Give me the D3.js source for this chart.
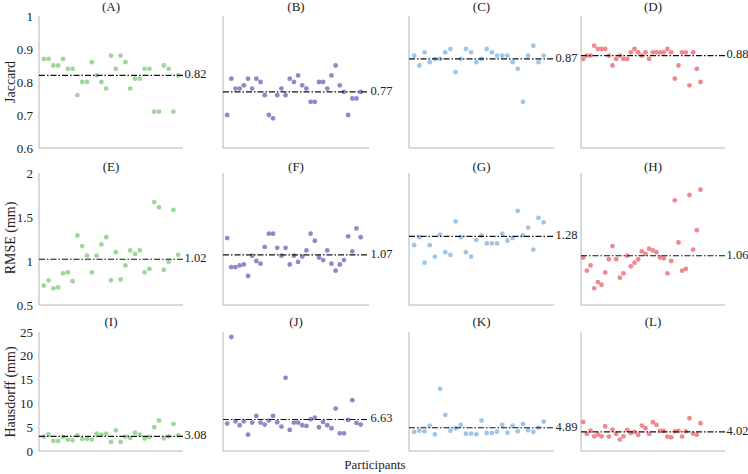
<!DOCTYPE html>
<html><head><meta charset="utf-8">
<script src="https://cdn.jsdelivr.net/npm/d3@7"></script>
<style>body{margin:0;background:#fff}svg text{font-family:"Liberation Serif","Times New Roman","DejaVu Serif",serif !important;fill:#222}</style>
</head><body><svg id="c" width="748" height="474"></svg>
<script>
const panelLabels = ["(A)","(B)","(C)","(D)","(E)","(F)","(G)","(H)","(I)","(J)","(K)","(L)"];
const rowTitles = ["Jaccard","RMSE (mm)","Hausdorff (mm)"];
const rowTicks = [["0.6","0.7","0.8","0.9","1"],["0.5","1","1.5","2"],["0","5","10","15","20","25"]];
const rowDomains = [[0.6,1],[0.5,2],[0,25]];
const colors = ["#9fd69a","#8e89c9","#9ec6ea","#f0898e"];

const A = [0.87,0.87,0.85,0.85,0.87,0.84,0.84,0.76,0.80,0.80,0.86,0.82,0.80,0.78,0.88,0.84,0.88,0.86,0.78,0.81,0.81,0.84,0.84,0.71,0.71,0.85,0.84,0.71,0.82];
const B = [0.70,0.81,0.78,0.78,0.79,0.81,0.78,0.81,0.80,0.76,0.70,0.69,0.76,0.78,0.76,0.81,0.80,0.82,0.79,0.78,0.74,0.74,0.80,0.80,0.78,0.82,0.85,0.79,0.77,0.70,0.75,0.75,0.77];
const C = [0.88,0.85,0.89,0.86,0.87,0.87,0.89,0.90,0.83,0.87,0.90,0.89,0.86,0.87,0.90,0.89,0.88,0.88,0.88,0.86,0.84,0.74,0.88,0.91,0.86,0.88];
const D = [0.87,0.88,0.88,0.91,0.90,0.90,0.90,0.88,0.85,0.87,0.88,0.87,0.87,0.89,0.90,0.89,0.88,0.89,0.87,0.89,0.89,0.89,0.89,0.90,0.89,0.81,0.85,0.89,0.89,0.79,0.89,0.84,0.80];
const E = [0.72,0.78,0.69,0.70,0.86,0.87,0.77,1.29,1.17,1.06,0.87,1.06,1.19,1.27,0.78,1.10,0.79,0.95,1.12,1.08,1.12,0.87,0.91,1.67,1.61,0.90,0.99,1.58,1.07];
const F = [1.26,0.93,0.93,0.95,0.96,0.83,1.06,1.00,0.97,1.16,1.31,1.31,1.15,1.06,1.15,0.96,1.06,0.99,1.05,1.12,1.31,1.23,1.04,1.01,1.12,0.97,0.89,0.96,1.01,1.28,1.11,1.37,1.27];
const G = [1.18,1.27,0.98,1.18,1.05,1.30,1.10,1.07,1.45,1.27,1.10,1.05,1.24,1.29,1.20,1.20,1.20,1.31,1.23,1.26,1.57,1.29,1.38,1.13,1.49,1.44];
const H = [1.04,0.89,0.95,0.69,0.76,0.73,0.87,1.02,1.17,1.02,0.81,0.86,1.06,0.94,0.98,1.02,1.11,1.08,1.14,1.12,1.10,1.04,1.03,0.86,1.00,1.69,1.21,0.89,0.91,1.75,1.13,1.35,1.81];
const I = [3.02,3.51,2.11,2.11,2.95,2.39,2.25,3.30,2.53,2.53,2.39,3.65,3.44,3.65,1.90,4.35,1.90,3.02,2.74,3.86,3.44,2.60,2.95,4.99,6.39,2.67,3.09,5.69,3.30];
const J = [5.76,23.95,6.25,5.41,6.25,3.44,5.97,7.37,5.97,5.55,6.39,7.37,6.04,5.13,15.38,4.42,5.97,5.97,5.41,5.27,6.67,7.02,4.99,6.11,5.41,4.78,8.92,3.72,3.72,6.53,10.67,5.90,5.55];
const K = [4.00,4.28,4.14,5.34,3.51,13.06,7.58,4.28,4.78,5.48,3.65,3.65,3.51,6.39,3.79,3.79,4.07,5.48,3.86,5.34,4.14,5.69,4.35,4.00,4.92,6.18];
const L = [6.11,3.58,4.28,3.09,3.44,3.09,5.20,3.02,4.49,3.58,2.39,3.09,4.42,3.79,4.00,3.37,5.34,4.78,3.58,6.04,5.48,4.21,4.21,3.02,2.88,4.14,4.21,3.02,4.14,6.88,3.65,3.44,5.83];
const means = [0.82,0.77,0.87,0.88,1.02,1.07,1.28,1.06,3.08,6.63,4.89,4.02];
const meanText = ["0.82","0.77","0.87","0.88","1.02","1.07","1.28","1.06","3.08","6.63","4.89","4.02"];
const series = [A,B,C,D,E,F,G,H,I,J,K,L];

// layout
const colX = [[39,183],[223,369],[409,554],[581,725]];
const colDom = [[0,30],[0,35],[0,28],[0.4,39.7]];
const rowY = [[16,148],[173,305],[332,451]];
const titleY = [8,168,323];
const rowTitleY = [82,238,392];
const FONT = "'Liberation Serif','Times New Roman',serif";

const svg = d3.select("#c");
for (let r=0;r<3;r++){
  const y = d3.scaleLinear().domain(rowDomains[r]).range([rowY[r][1],rowY[r][0]]);
  svg.append("text").attr("transform",`translate(12,${rowTitleY[r]}) rotate(-90)`)
    .attr("text-anchor","middle").attr("dominant-baseline","middle").attr("font-family",FONT).style("font-size","14px").text(rowTitles[r]);
  const yAxis = svg.append("g").attr("transform",`translate(${colX[0][0]},0)`)
    .call(d3.axisLeft(y).tickValues(rowTicks[r].map(Number)).tickFormat((d,i)=>rowTicks[r][i]).tickSize(0).tickPadding(6));
  yAxis.attr("font-family",FONT);
  yAxis.select(".domain").remove();
  yAxis.selectAll("text").style("font-size","13px").attr("fill","#222");
  for (let c=0;c<4;c++){
    const k = r*4+c;
    const x = d3.scaleLinear().domain(colDom[c]).range(colX[c]);
    const g = svg.append("g").attr("font-family",FONT);
    g.append("line").attr("x1",colX[c][0]).attr("x2",colX[c][0]).attr("y1",rowY[r][0]).attr("y2",rowY[r][1]).attr("stroke","#b4b4b4");
    g.append("line").attr("x1",colX[c][0]).attr("x2",colX[c][1]).attr("y1",rowY[r][1]).attr("y2",rowY[r][1]).attr("stroke","#b4b4b4");
    g.append("text").attr("x",(colX[c][0]+colX[c][1])/2).attr("y",titleY[r]).attr("text-anchor","middle")
      .attr("dominant-baseline","middle").style("font-size","13px").text(panelLabels[k]);
    g.selectAll("circle").data(series[k]).join("circle")
      .attr("cx",(d,i)=>x(i+1)).attr("cy",d=>y(d)).attr("r",2.4).attr("fill",colors[c]);
    g.append("line").attr("x1",colX[c][0]).attr("x2",colX[c][1]).attr("y1",y(means[k])).attr("y2",y(means[k]))
      .attr("stroke","#111").attr("stroke-width",1.1).attr("stroke-dasharray","6,2,1.5,2");
    g.append("text").attr("x",colX[c][1]+1.5).attr("y",y(means[k])).attr("dominant-baseline","middle")
      .style("font-size","12.5px").text(meanText[k]);
  }
}
svg.append("text").attr("x",375).attr("y",466).attr("text-anchor","middle").attr("dominant-baseline","middle")
  .attr("font-family",FONT).style("font-size","13px").text("Participants");
</script></body></html>
